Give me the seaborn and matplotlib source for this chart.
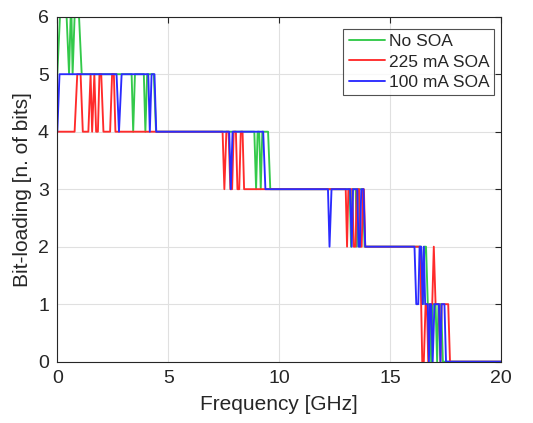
import matplotlib
matplotlib.use("Agg")
import matplotlib.pyplot as plt
import seaborn as sns
import pandas as pd

# ---- data (polyline vertices: frequency [GHz], bits) ----
freq_nosoa = [0, 0.12, 0.42, 0.53, 0.6, 0.64, 0.69, 0.78, 0.98, 1.1,
              3.35, 3.42, 3.5, 3.9, 3.97, 4.05, 4.35, 4.45,
              8.88, 8.96, 9.03, 9.1, 9.17, 9.24, 9.5, 9.6,
              13.18, 13.24, 13.3, 13.45, 13.5, 13.56, 13.78, 13.85,
              16.4, 16.48, 16.55, 16.62, 16.7, 16.78, 16.85, 16.92, 17.05, 17.12, 17.18, 17.3, 17.38, 20]
bits_nosoa = [5, 6, 6, 5, 6, 6, 5, 6, 6, 5,
              5, 4, 5, 5, 4, 5, 5, 4,
              4, 3, 4, 4, 3, 4, 4, 3,
              3, 2, 3, 3, 2, 3, 3, 2,
              2, 1, 2, 2, 1, 1, 0, 1, 1, 0, 1, 1, 0, 0]

freq_225 = [0, 0.78, 0.9, 1.05, 1.15, 1.4, 1.5, 1.57, 1.67, 1.75, 1.83, 1.9, 1.98, 2.08, 2.38, 2.47, 2.55, 2.62,
            7.45, 7.53, 7.62, 7.72, 7.8, 7.88, 7.95, 8.05, 8.12, 8.2, 8.27, 8.35, 8.42,
            13.0, 13.06, 13.12, 13.3, 13.36, 13.44, 13.5, 13.6, 13.66, 13.72, 13.78, 13.82, 13.88,
            16.35, 16.45, 16.52, 16.6, 16.66, 16.72, 16.78, 16.9, 16.97, 17.05, 17.2, 17.27, 17.32, 17.62, 17.7, 20]
bits_225 = [4, 4, 5, 5, 4, 4, 5, 4, 5, 4, 4, 5, 5, 4, 4, 5, 5, 4,
            4, 3, 4, 4, 3, 3, 4, 4, 3, 3, 4, 4, 3,
            3, 2, 3, 3, 2, 2, 3, 3, 2, 2, 3, 3, 2,
            2, 0, 0, 1, 1, 0, 1, 1, 2, 1, 1, 0, 1, 1, 0, 0]

freq_100 = [0, 0.1, 2.67, 2.78, 2.9, 4.1, 4.17, 4.25, 4.38, 4.46,
            7.75, 7.82, 7.9, 9.28, 9.38,
            12.2, 12.27, 12.36, 13.2, 13.27, 13.33, 13.52, 13.58, 13.64, 13.7, 13.8, 13.88,
            16.1, 16.18, 16.27, 16.33, 16.4, 16.47, 16.52, 16.58, 16.7, 16.75, 16.8, 16.85, 16.92, 17.0,
            17.2, 17.27, 17.32, 17.45, 17.52, 20]
bits_100 = [4, 5, 5, 4, 5, 5, 4, 5, 5, 4,
            4, 3, 4, 4, 3,
            3, 2, 3, 3, 2, 3, 3, 2, 2, 3, 3, 2,
            2, 1, 1, 2, 2, 1, 2, 1, 1, 0, 1, 1, 0, 1,
            1, 0, 1, 1, 0, 0]

series_names = ["No SOA", "225 mA SOA", "100 mA SOA"]
series_colors = ["#33c94a", "#ff2b2b", "#2b2bff"]
x_ticks = [0, 5, 10, 15, 20]
y_ticks = [0, 1, 2, 3, 4, 5, 6]

frames = []
for name, fx, by in zip(series_names,
                        [freq_nosoa, freq_225, freq_100],
                        [bits_nosoa, bits_225, bits_100]):
    frames.append(pd.DataFrame({"Frequency": fx, "Bits": by, "Series": name}))
df = pd.concat(frames, ignore_index=True)

sns.set_style("white")
plt.rcParams["font.family"] = ["Liberation Sans", "DejaVu Sans"]

fig = plt.figure(figsize=(5.33, 4.23), dpi=100)
ax = fig.add_axes([0.1075, 0.145, 0.8325, 0.8155])

sns.lineplot(data=df, x="Frequency", y="Bits", hue="Series", hue_order=series_names,
             palette=dict(zip(series_names, series_colors)), estimator=None, sort=False,
             units="Series", linewidth=1.35, ax=ax)

ax.set_xlim(0, 20)
ax.set_ylim(0, 6)
ax.set_xticks(x_ticks)
ax.set_yticks(y_ticks)
ax.grid(True, color="#e0e0e0", linewidth=0.8)
ax.set_axisbelow(True)
for s in ax.spines.values():
    s.set_color("#262626")
    s.set_linewidth(0.8)
ax.tick_params(direction="in", top=True, right=True, length=4, width=0.8,
               colors="#262626", labelsize=14, pad=6)
ax.set_xlabel("Frequency [GHz]", fontsize=15, color="#262626", labelpad=6)
ax.set_ylabel("Bit-loading [n. of bits]", fontsize=15, color="#262626", labelpad=4)

leg = ax.legend(loc="upper right", bbox_to_anchor=(0.985, 0.965), fontsize=12.5,
                frameon=True, fancybox=False, handlelength=2.1, handletextpad=0.2,
                borderpad=0.3, labelspacing=0.3, borderaxespad=0.0)
leg.get_frame().set_edgecolor("#262626")
leg.get_frame().set_linewidth(0.8)

fig.savefig("out.png", dpi=100)
